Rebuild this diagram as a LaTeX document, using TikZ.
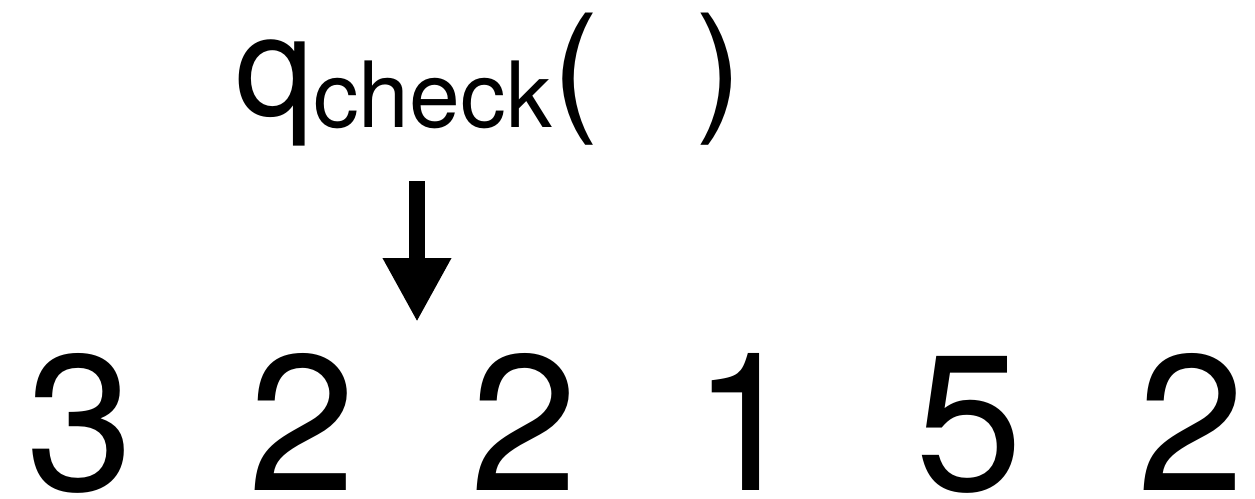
\documentclass[tikz,border=0pt]{standalone}
\usepackage{fontspec}
\setmainfont{TeX Gyre Heros}
\usetikzlibrary{arrows.meta}

\begin{document}
\begin{tikzpicture}[lbl/.style = {inner sep=0, outer sep=0, anchor=base west}, num/.style = {inner sep=0, outer sep=0, anchor=base, font=\fontsize{55}{55}\selectfont}]
	\useasboundingbox (0,0) rectangle (12.55,4.98);
	
	% query label
	\node[lbl, font=\fontsize{40}{40}\selectfont] (q) at (2.35,3.83) {q};
	\node[lbl, font=\fontsize{26}{26}\selectfont] (check) at ([yshift=-0.12cm]q.base east) {check};
	\node[lbl, font=\fontsize{40}{40}\selectfont] (lpar) at (q.base -| check.base east) {(};
	\node[lbl, font=\fontsize{40}{40}\selectfont] (rpar) at ([xshift=0.96cm]lpar.base east) {)};
	
	% the sequence
	\foreach \d [count=\i] in {3,2,2,1,5,2}
		\node[num] (d\i) at ({0.80+2.222*(\i-1)},0.08) {\d};
	
	\coordinate (from) at (4.17,3.17);
	\coordinate (to) at (4.17,1.76);
	\draw[line width=0.16cm, -{Triangle[width=0.64cm, length=0.64cm]}] (from) -- (to);
	
\end{tikzpicture}
\end{document}
